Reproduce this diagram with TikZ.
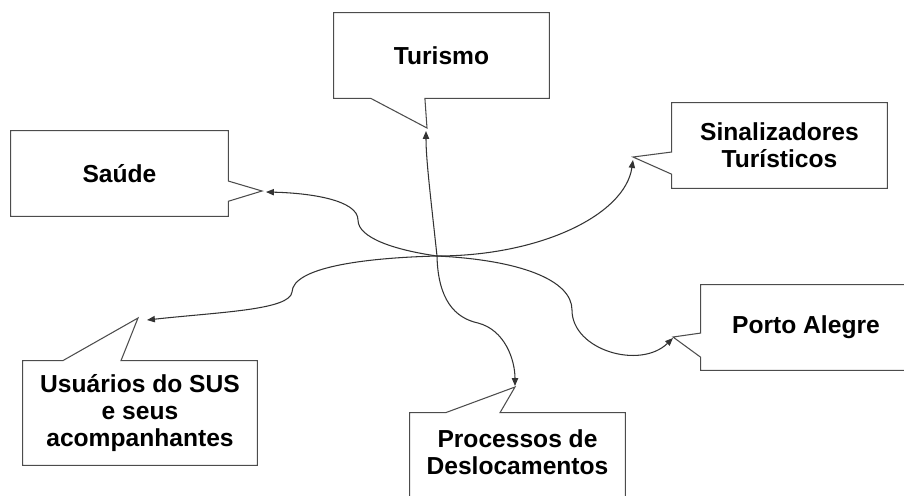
\documentclass[tikz,border=0pt]{standalone}
\usepackage{fontspec}
\setmainfont{Liberation Sans}
\usetikzlibrary{calc,arrows.meta}

\begin{document}
\begin{tikzpicture}[x=0.02cm, y=-0.02cm,
    box/.style={inner sep=0pt, align=center, font=\fontsize{14}{15.2}\selectfont\bfseries},
    frame/.style={draw=black!70, line width=0.6pt, line join=miter},
    link/.style={draw=black!80, line width=0.6pt, -{Triangle[length=4.5pt,width=3.6pt]}}]

    \useasboundingbox (0,0) rectangle (904,495);
    \clip (0,0) rectangle (904,495);

    % Hub where the links meet
    \coordinate (hub) at (437,256);

    % Turismo
    \node[box, minimum width=4.3cm, minimum height=1.7cm] (tur) at (441.5,55.5) {Turismo};
    \coordinate (turTip) at (427,128);
    \coordinate (turEnd) at (426,131);
    \draw[frame] (tur.north west) -- (tur.north east) -- (tur.south east)
        -- ($(tur.south west)!0.423!(tur.south east)$) -- (turTip)
        -- ($(tur.south west)!0.172!(tur.south east)$) -- (tur.south west) -- cycle;

    % Saude
    \node[box, minimum width=4.34cm, minimum height=1.7cm] (sau) at (119.5,173.5) {Saúde};
    \coordinate (sauTip) at (262,191);
    \coordinate (sauEnd) at (266,192);
    \draw[frame] (sau.south east) -- (sau.south west) -- (sau.north west) -- (sau.north east)
        -- ($(sau.north east)!0.588!(sau.south east)$) -- (sauTip)
        -- ($(sau.north east)!0.824!(sau.south east)$) -- cycle;

    % Sinalizadores
    \node[box, minimum width=4.3cm, minimum height=1.7cm] (sin) at (779.5,145.5) {Sinalizadores\\Turísticos};
    \coordinate (sinTip) at (633,157);
    \coordinate (sinEnd) at (633,160);
    \draw[frame] (sin.north west) -- (sin.north east) -- (sin.south east) -- (sin.south west)
        -- ($(sin.north west)!0.835!(sin.south west)$) -- (sinTip)
        -- ($(sin.north west)!0.576!(sin.south west)$) -- cycle;

    % Usuarios
    \node[box, minimum width=4.68cm, minimum height=2.08cm] (usu) at (140,413) {Usuários do SUS\\e seus\\acompanhantes};
    \coordinate (usuTip) at (138,318);
    \coordinate (usuEnd) at (147,320);
    \draw[frame] (usu.north west) -- ($(usu.north west)!0.171!(usu.north east)$) -- (usuTip)
        -- ($(usu.north west)!0.419!(usu.north east)$) -- (usu.north east)
        -- (usu.south east) -- (usu.south west) -- cycle;

    % Processos (box runs past the lower edge)
    \node[box, minimum width=4.3cm, minimum height=1.56cm] (pro) at (517.5,452) {Processos de\\Deslocamentos};
    \coordinate (proTip) at (515,387);
    \coordinate (proEnd) at (515,386);
    \draw[frame] (pro.north west) -- ($(pro.north west)!0.167!(pro.north east)$) -- (proTip)
        -- ($(pro.north west)!0.419!(pro.north east)$) -- (pro.north east)
        -- ($(pro.south east)+(0,12)$) -- ($(pro.south west)+(0,12)$) -- cycle;

    % Porto Alegre
    \node[box, minimum width=4.2cm, minimum height=1.7cm] (por) at (806,327.5) {Porto Alegre};
    \coordinate (porTip) at (673,337);
    \coordinate (porEnd) at (673,338);
    \draw[frame] (por.north west) -- (por.north east) -- (por.south east) -- (por.south west)
        -- ($(por.north west)!0.847!(por.south west)$) -- (porTip)
        -- ($(por.north west)!0.565!(por.south west)$) -- cycle;

    % Links from the hub
    \draw[link] (hub) .. controls (431,200) and (426,160) .. (turEnd);
    \draw[link] (hub) .. controls (395,250) and (358,238) .. (358,220)
        .. controls (358,200) and (310,193) .. (sauEnd);
    \draw[link] (hub) .. controls (540,256) and (625,215) .. (sinEnd);
    \draw[link] (hub) .. controls (360,258) and (293,268) .. (292,292)
        .. controls (290,310) and (220,312) .. (usuEnd);
    \draw[link] (hub) .. controls (438,300) and (455,318) .. (478,323)
        .. controls (505,330) and (515,360) .. (proEnd);
    \draw[link] (hub) .. controls (520,260) and (572,280) .. (572,310)
        .. controls (572,350) and (640,370) .. (porEnd);

\end{tikzpicture}
\end{document}
